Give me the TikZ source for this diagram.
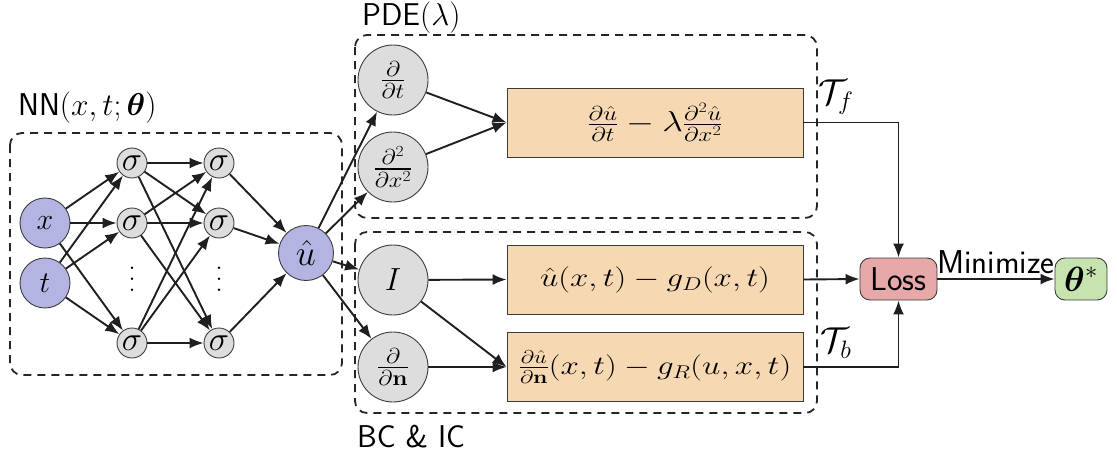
\RequirePackage{fix-cm}
\documentclass[tikz,border=0pt]{standalone}
\usepackage{amsmath,amssymb,bm,graphicx}
\usetikzlibrary{arrows.meta,positioning}
\definecolor{lav}{RGB}{180,180,226}
\definecolor{gry}{RGB}{221,221,221}
\definecolor{tan}{RGB}{246,216,178}
\definecolor{pnk}{RGB}{230,168,168}
\definecolor{grn}{RGB}{199,227,176}
\definecolor{edge}{RGB}{60,60,60}
\newcommand{\fs}[1]{\fontsize{#1}{#1}\selectfont}
\newcommand{\vsq}[2]{\scalebox{1}[#1]{#2}}
\newcommand{\myvdots}{\vbox{\baselineskip=11pt\lineskiplimit=0pt\hbox{.}\hbox{.}\hbox{.}}}
\tikzset{
  arr/.style={line width=1.9pt,-{Latex[length=14pt,width=11pt]},black!88},
  inp/.style={circle,draw=edge,line width=0.9pt,fill=lav,minimum size=50pt,inner sep=0pt,font=\fs{30}},
  sig/.style={circle,draw=edge,line width=0.9pt,fill=gry,minimum size=30pt,inner sep=0pt,font=\fs{34}},
  op/.style={circle,draw=edge,line width=0.9pt,fill=gry,minimum size=70pt,inner sep=0pt,font=\fs{35}},
  res/.style={rectangle,draw=edge,line width=0.9pt,fill=tan,minimum width=296pt,minimum height=69pt,inner sep=0pt,font=\fs{33}},
  grp/.style={draw=black!85,line width=1.8pt,dash pattern=on 8pt off 6pt,rounded corners=12pt},
  lbl/.style={font=\fs{31.5}\sffamily,inner sep=0pt,anchor=west},
}
\begin{document}
\begin{tikzpicture}[x=1pt,y=-1pt,font=\fs{30}]
\useasboundingbox (0,0) rectangle (1117,456);
% group boxes
\draw[grp] (10,133) rectangle (342,375);
\draw[grp] (355,35) rectangle (817,218);
\draw[grp] (355,232) rectangle (817,413);
\node[lbl] (nnl) at (18,108) {NN$(x,t;\bm{\theta})$};
\node[lbl] (pdel) at (362,18) {PDE$(\lambda)$};
\node[lbl] (bcl) at (357,437) {BC \& IC};
% network
\node[inp] (x) at (45,223) {$x$};
\node[inp] (t) at (45,283) {$t$};
\node[sig] (s11) at (132,163) {$\sigma$};
\node[sig] (s12) at (132,223) {$\sigma$};
\node[sig] (s13) at (132,343) {$\sigma$};
\node[inner sep=0pt,font=\fs{30}] (d1) at (132,279) {\myvdots};
\node[sig] (s21) at (219,163) {$\sigma$};
\node[sig] (s22) at (219,223) {$\sigma$};
\node[sig] (s23) at (219,343) {$\sigma$};
\node[inner sep=0pt,font=\fs{30}] (d2) at (219,279) {\myvdots};
\node[inp,minimum size=55pt,font=\fs{36}] (u) at (306,253) {$\hat{u}$};
\foreach \a in {x,t}{\foreach \b in {s11,s12,s13}{\draw[arr] (\a) -- (\b);}}
\foreach \a in {s11,s12,s13}{\foreach \b in {s21,s22,s23}{\draw[arr] (\a) -- (\b);}}
\foreach \a in {s21,s22,s23}{\draw[arr] (\a) -- (u);}
% operators
\node[op] (dt) at (393,80) {\vsq{0.88}{$\frac{\partial}{\partial t}$}};
\node[op] (dxx) at (393,167) {\vsq{0.88}{$\frac{\partial^2}{\partial x^2}$}};
\node[op,font=\fs{32}] (I) at (393,280) {$I$};
\node[op] (dn) at (393,367) {\vsq{0.88}{$\frac{\partial}{\partial \mathbf{n}}$}};
\foreach \b in {dt,dxx,I,dn}{\draw[arr] (u) -- (\b);}
% residual boxes
\node[res,font=\fs{36}] (pde) at (655,122.5) {\vsq{0.8}{$\frac{\partial \hat{u}}{\partial t}-\lambda\frac{\partial^2 \hat{u}}{\partial x^2}$}};
\node[res] (gd) at (655,279.5) {\vsq{0.8}{$\hat{u}(x,t)-g_D(x,t)$}};
\node[res] (gr) at (655,367) {\vsq{0.8}{$\frac{\partial \hat{u}}{\partial \mathbf{n}}(x,t)-g_R(u,x,t)$}};
\draw[arr] (dt) -- (pde.west);
\draw[arr] (dxx) -- (pde.west);
\draw[arr] (I) -- (gd.west);
\draw[arr] (I) -- (gr.west);
\draw[arr] (dn) -- (gr.west);
% loss
\node[rectangle,rounded corners=10pt,draw=edge,line width=0.9pt,fill=pnk,minimum width=77pt,minimum height=42pt,inner sep=0pt,font=\fs{33}\sffamily] (loss) at (898.5,279) {Loss};
\node[rectangle,rounded corners=10pt,draw=edge,line width=0.9pt,fill=grn,minimum width=52pt,minimum height=42pt,inner sep=0pt,font=\fs{35}] (th) at (1081,279) {$\bm{\theta}^{*}$};
\draw[arr] (pde.east) -| (loss.north);
\draw[arr] (gr.east) -| (loss.south);
\draw[arr] (gd.east) -- (loss.west);
\draw[arr] (loss.east) -- (th.west);
\node[inner sep=0pt,font=\fs{36}] (tf) at (836,97) {$\mathcal{T}_f$};
\node[inner sep=0pt,font=\fs{36}] (tb) at (836,343) {$\mathcal{T}_b$};
\node[inner sep=0pt,font=\fs{33}\sffamily] (minl) at (996,262) {Minimize};
\end{tikzpicture}
\end{document}
